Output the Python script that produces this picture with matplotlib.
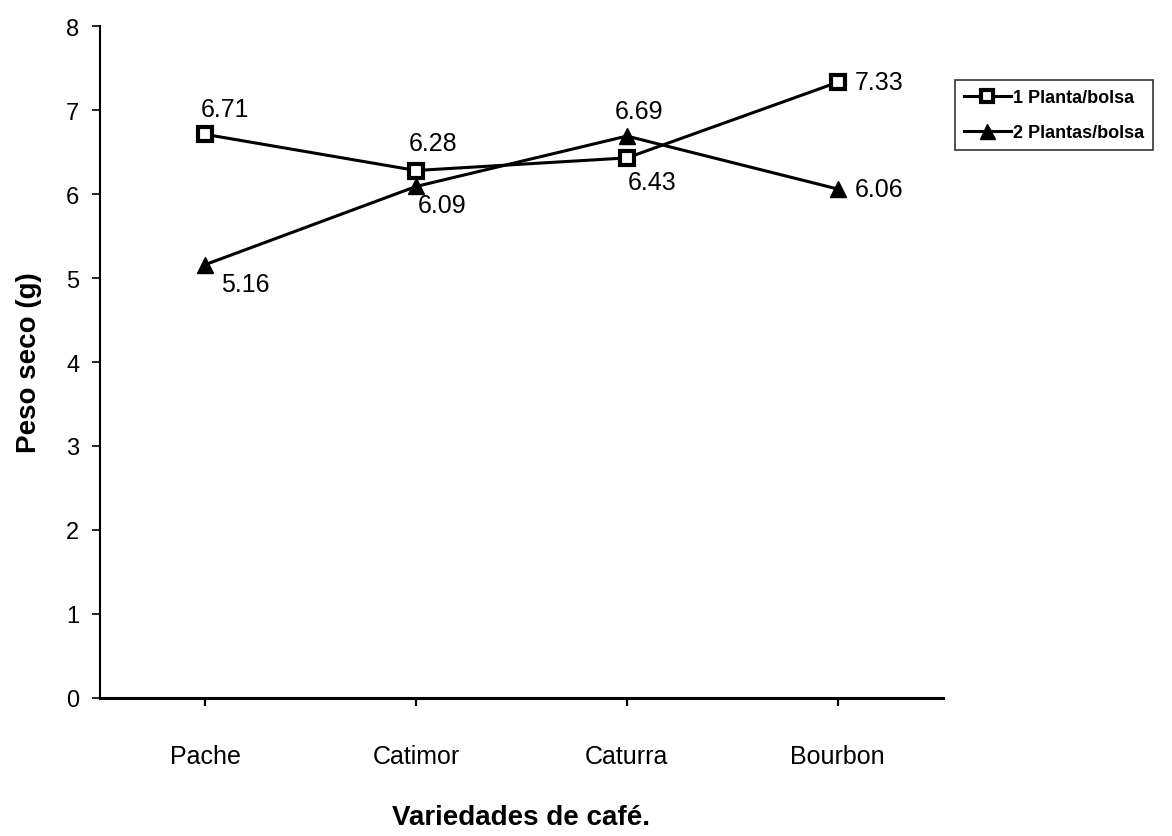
import matplotlib
matplotlib.use("Agg")
import matplotlib.pyplot as plt

plt.rcParams["font.family"] = ["Liberation Sans", "DejaVu Sans"]

variedades = ["Pache", "Catimor", "Caturra", "Bourbon"]
una_planta = [6.71, 6.28, 6.43, 7.33]
dos_plantas = [5.16, 6.09, 6.69, 6.06]
y_ticks = [0, 1, 2, 3, 4, 5, 6, 7, 8]

# label offsets in points (dx, dy, ha)
off_1 = [(14, 18, "center"), (12, 20, "center"), (18, -17, "center"), (12, 0, "left")]
off_2 = [(29, -14, "center"), (19, -13, "center"), (9, 18, "center"), (12, 0, "left")]

fig = plt.figure(figsize=(11.72, 8.37), dpi=100)
ax = fig.add_axes([0.0853, 0.1649, 0.7193, 0.8028])

x = list(range(len(variedades)))
l1, = ax.plot(x, una_planta, color="black", lw=2.2, marker="s", markersize=10,
              markerfacecolor="white", markeredgecolor="black", markeredgewidth=3,
              label="1 Planta/bolsa", zorder=3)
l2, = ax.plot(x, dos_plantas, color="black", lw=2.2, marker="^", markersize=12,
              markerfacecolor="black", markeredgecolor="black",
              label="2 Plantas/bolsa", zorder=3)

for xi, v, (dx, dy, ha) in zip(x, una_planta, off_1):
    ax.annotate(f"{v:.2f}", (xi, v), xytext=(dx, dy), textcoords="offset points",
                ha=ha, va="center", fontsize=18)
for xi, v, (dx, dy, ha) in zip(x, dos_plantas, off_2):
    ax.annotate(f"{v:.2f}", (xi, v), xytext=(dx, dy), textcoords="offset points",
                ha=ha, va="center", fontsize=18)

ax.set_xlim(-0.5, 3.5)
ax.set_ylim(0, 8)
ax.set_yticks(y_ticks)
ax.set_xticks(x)
ax.set_xticklabels(variedades, fontsize=18)
ax.tick_params(axis="y", labelsize=17, direction="out", length=6, width=1.2, pad=9)
ax.tick_params(axis="x", direction="out", length=6, width=1.6, pad=27)
ax.spines["top"].set_visible(False)
ax.spines["right"].set_visible(False)
ax.spines["left"].set_linewidth(1.5)
ax.spines["bottom"].set_linewidth(2.2)

ax.set_ylabel("Peso seco (g)", fontsize=20, fontweight="bold", labelpad=17)
ax.set_xlabel("Variedades de café.", fontsize=20, fontweight="bold", labelpad=26)

leg = fig.legend(handles=[l1, l2], loc="upper left", bbox_to_anchor=(0.807, 0.914),
                 frameon=True, fancybox=False, edgecolor="black",
                 prop={"weight": "bold", "size": 13}, handlelength=2.6,
                 handletextpad=0.1, borderpad=0.5, labelspacing=1.0, markerscale=0.9)
leg.get_frame().set_linewidth(1.2)

fig.savefig("out.png", dpi=100)
